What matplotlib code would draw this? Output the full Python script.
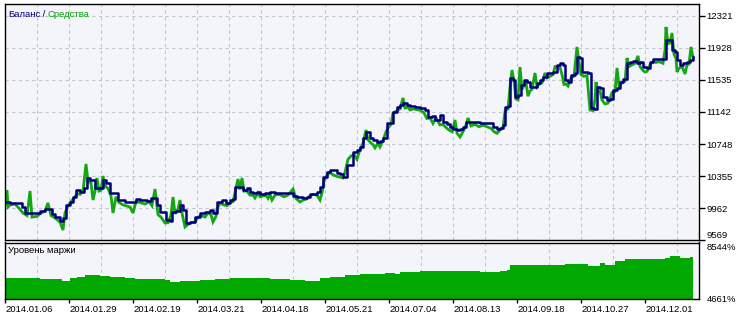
import matplotlib
matplotlib.use("Agg")
import matplotlib.pyplot as plt
from matplotlib.ticker import FixedLocator
from matplotlib.transforms import offset_copy

# ---------------- data ----------------
balance_bar = [0, 5, 12, 17, 20, 31, 35, 40, 47, 50, 55, 58, 61, 65, 68, 71, 75, 79, 82, 85,
               90, 95, 98, 101, 105, 110, 113, 120, 125, 131, 135, 142, 146, 152, 155, 161, 165,
               167, 171, 175, 178, 181, 185, 190, 195, 200, 205, 208, 212, 217, 221, 225, 228,
               230, 235, 238, 242, 245, 248, 252, 255, 260, 265, 270, 275, 280, 285, 288, 292,
               298, 302, 305, 312, 315, 318, 322, 325, 332, 335, 338, 342, 348, 352, 355, 358,
               361, 365, 368, 372, 375, 378, 382, 385, 388, 392, 395, 398, 402, 405, 410, 415,
               420, 423, 427, 430, 435, 438, 442, 445, 448, 452, 455, 458, 461, 475, 485, 488,
               492, 495, 498, 500, 503, 505, 508, 510, 513, 516, 519, 522, 525, 528, 532, 535,
               538, 542, 545, 548, 552, 555, 558, 560, 563, 566, 570, 572, 575, 577, 583, 586,
               589, 592, 595, 598, 602, 605, 608, 612, 615, 618, 622, 625, 628, 632, 635, 638,
               642, 645, 648, 659, 661, 665, 667, 670, 672, 675, 678, 682, 685, 688]
balance_val = [10036, 10024, 10024, 9974, 9901, 9901, 9925, 9950, 9888, 9851, 9802, 9839, 9999,
               10036, 10097, 10183, 10159, 10208, 10331, 10306, 10208, 10208, 10306, 10269,
               10146, 10146, 10060, 10036, 10036, 10073, 10060, 10048, 10085, 9999, 9913, 9815,
               9802, 9913, 9925, 9999, 9937, 9778, 9790, 9851, 9901, 9913, 9937, 9901, 10036,
               10060, 10024, 10060, 10073, 10220, 10220, 10183, 10208, 10159, 10146, 10159,
               10134, 10146, 10159, 10146, 10150, 10146, 10146, 10110, 10097, 10085, 10097,
               10134, 10159, 10220, 10343, 10404, 10429, 10392, 10380, 10343, 10490, 10650,
               10675, 10712, 10822, 10896, 10822, 10798, 10773, 10785, 10822, 11006, 11006,
               11142, 11203, 11228, 11252, 11228, 11215, 11203, 11191, 11166, 11080, 11093,
               11043, 11105, 11019, 10994, 10957, 10933, 10920, 10933, 10957, 11019, 11006,
               11006, 10957, 10933, 10945, 10982, 11203, 11215, 11559, 11535, 11326, 11350,
               11473, 11535, 11510, 11449, 11449, 11498, 11535, 11572, 11621, 11621, 11633,
               11719, 11744, 11719, 11535, 11510, 11596, 11621, 11817, 11805, 11633, 11621,
               11191, 11178, 11449, 11436, 11326, 11289, 11301, 11412, 11436, 11510, 11547,
               11744, 11756, 11768, 11744, 11756, 11694, 11682, 11756, 11793, 11793, 12026,
               12026, 11903, 11879, 11780, 11719, 11744, 11756, 11780, 11817]

equity_bar = [0, 2, 3, 5, 10, 14, 18, 22, 25, 27, 32, 36, 40, 43, 46, 50, 52, 55, 58, 60, 63,
              66, 70, 72, 75, 78, 81, 83, 86, 88, 90, 92, 94, 96, 98, 100, 103, 106, 108, 111,
              114, 118, 121, 125, 128, 131, 135, 140, 144, 147, 150, 153, 156, 160, 163, 166,
              168, 170, 173, 175, 177, 180, 183, 186, 190, 193, 196, 200, 203, 206, 208, 211,
              212, 215, 219, 222, 225, 228, 230, 233, 235, 237, 239, 242, 245, 248, 250, 253,
              255, 258, 261, 263, 265, 267, 270, 273, 276, 279, 283, 288, 291, 295, 298, 301,
              304, 308, 312, 315, 317, 319, 322, 325, 328, 332, 335, 338, 340, 343, 346, 349,
              352, 355, 358, 361, 363, 366, 368, 370, 373, 375, 378, 381, 384, 386, 388, 391,
              395, 398, 400, 403, 405, 408, 412, 416, 419, 422, 425, 428, 431, 435, 438, 441,
              444, 447, 450, 452, 455, 458, 461, 463, 466, 470, 474, 478, 482, 486, 489, 492,
              495, 498, 500, 503, 505, 507, 509, 511, 513, 515, 517, 519, 521, 523, 525, 527,
              530, 532, 534, 537, 540, 542, 545, 548, 550, 553, 555, 557, 559, 561, 563, 566,
              569, 572, 574, 576, 579, 582, 585, 588, 590, 591, 593, 595, 597, 600, 603, 605,
              607, 610, 612, 614, 617, 620, 622, 624, 627, 630, 633, 635, 638, 640, 642, 645,
              648, 651, 654, 658, 660, 661, 663, 665, 667, 669, 671, 672, 674, 677, 680, 682,
              684, 686, 688]
equity_val = [10000, 10183, 9975, 9999, 10010, 9960, 9900, 9870, 10171, 9850, 9860, 9900, 9925,
              10024, 9870, 9840, 9820, 9790, 9692, 9900, 9990, 10040, 10100, 10140, 10130,
              10170, 10503, 10290, 10270, 10060, 10170, 10331, 10170, 10180, 10355, 10240,
              10200, 10110, 9901, 10100, 10030, 10000, 9990, 9974, 9901, 10040, 10030, 10010,
              10040, 9990, 10195, 9880, 9850, 9778, 9780, 9880, 10097, 9890, 9950, 10060, 9900,
              9729, 9760, 9780, 9790, 9850, 9870, 9851, 9900, 9880, 9790, 9860, 9950, 10020,
              10000, 9990, 10030, 10040, 10150, 10318, 10190, 10331, 10170, 10170, 10120,
              10120, 10085, 10146, 10100, 10110, 10120, 10080, 10130, 10060, 10120, 10130,
              10120, 10100, 10120, 10195, 10080, 10036, 10060, 10070, 10100, 10130, 10120,
              10060, 10146, 10290, 10370, 10400, 10370, 10350, 10340, 10331, 10400, 10560,
              10600, 10620, 10560, 10680, 10760, 10920, 10800, 10760, 10740, 10700, 10760,
              10712, 10790, 10900, 10960, 10990, 11130, 11150, 11180, 11314, 11190, 11200,
              11166, 11180, 11170, 11160, 11130, 11060, 11070, 11000, 11070, 10982, 10990,
              10950, 10920, 10900, 11043, 10880, 10834, 10900, 10980, 11068, 10970, 10990,
              10960, 10980, 10960, 10940, 10900, 10880, 10920, 10950, 11150, 11180, 11450,
              11657, 11520, 11300, 11290, 11694, 11420, 11470, 11500, 11336, 11400, 11420,
              11621, 11450, 11480, 11500, 11621, 11560, 11580, 11600, 11700, 11700, 11690,
              11600, 11480, 11486, 11460, 11560, 11580, 11940, 11760, 11600, 11580, 11590,
              11166, 11160, 11300, 11510, 11400, 11400, 11290, 11240, 11250, 11300, 11380,
              11390, 11682, 11460, 11500, 11520, 11805, 11700, 11720, 11740, 11830, 11700,
              11650, 11633, 11640, 11720, 11760, 11750, 11760, 11740, 11900, 12186, 11980,
              11990, 12112, 11850, 11800, 11633, 11680, 11700, 11608, 11720, 11730, 11940,
              11817]

margin_bar = [0, 10, 25, 35, 50, 57, 65, 72, 80, 88, 95, 105, 120, 130, 145, 160, 165, 175,
              185, 195, 210, 225, 240, 245, 265, 285, 300, 315, 325, 340, 355, 365, 380, 390,
              395, 415, 445, 475, 495, 502, 505, 520, 540, 560, 580, 583, 595, 600, 610, 620,
              635, 645, 660, 665, 675, 685, 688]
margin_val = [6112, 6100, 6112, 6023, 6030, 5907, 6091, 6200, 6343, 6300, 6248, 6180, 6071,
              6023, 6023, 5955, 5839, 5907, 5887, 5955, 6023, 6071, 6112, 6071, 6003, 5955,
              5907, 6071, 6180, 6295, 6364, 6411, 6452, 6411, 6520, 6568, 6568, 6520, 6588,
              6650, 6976, 7000, 7030, 7045, 7070, 6950, 7133, 7024, 7249, 7385, 7433, 7385,
              7501, 7589, 7474, 7542, 7542]

main_yticks = [9569, 9962, 10355, 10748, 11142, 11535, 11928, 12321]
margin_yticks = [4661, 8544]
date_labels = ["2014.01.06", "2014.01.29", "2014.02.19", "2014.03.21", "2014.04.18",
               "2014.05.21", "2014.07.04", "2014.08.13", "2014.09.18", "2014.10.27",
               "2014.12.01"]

# ---------------- style ----------------
BG = "#F4F4FB"
NAVY = "#00007A"
GREEN = "#12A812"
FILL = "#00A800"
GRID = "#C4C4CC"
FONT = "Liberation Sans"
FS = 6.8
XMAX = 694

fig = plt.figure(figsize=(7.43, 3.16), dpi=100)
fig.patch.set_facecolor("white")

W = 743.0
H = 316.0
ax = fig.add_axes([5 / W, (H - 240) / H, 694 / W, 236 / H])
ax2 = fig.add_axes([5 / W, (H - 299) / H, 694 / W, 56.5 / H])

for a in (ax, ax2):
    a.set_facecolor(BG)
    for s in a.spines.values():
        s.set_color("black")
        s.set_linewidth(1.0)
    a.set_xlim(0, XMAX)
    a.xaxis.set_minor_locator(FixedLocator(list(range(32, XMAX, 32))))
    a.grid(which="minor", axis="x", color=GRID, linestyle=(0, (3, 3)), linewidth=0.8)
    a.tick_params(axis="x", which="minor", length=0)
    a.set_axisbelow(True)

# main panel
ax.plot(equity_bar, equity_val, color=GREEN, linewidth=2.0, solid_joinstyle="miter", zorder=2)
ax.plot(balance_bar, balance_val, color=NAVY, linewidth=1.8, drawstyle="steps-post", zorder=3)
ax.set_ylim(9569, 12468)
ax.yaxis.tick_right()
ax.set_yticks(main_yticks)
ax.set_yticklabels([str(v) for v in main_yticks], fontfamily=FONT, fontsize=FS)
ax.tick_params(axis="y", length=4, width=1, pad=1.5, colors="black")
ax.grid(which="major", axis="y", color=GRID, linestyle=(0, (3, 3)), linewidth=0.8)
ax.set_xticks([])
ax.get_yticklabels()[0].set_va("bottom")

# legend-like title: "Баланс / Средства"
fig.canvas.draw()
renderer = fig.canvas.get_renderer()
t1 = ax.text(0.004, 0.975, "Баланс", transform=ax.transAxes, color=NAVY, fontsize=FS,
             fontfamily=FONT, ha="left", va="top")
w1 = t1.get_window_extent(renderer).width
t2 = ax.text(0.004, 0.975, " / ", color="black", fontsize=FS, fontfamily=FONT,
             ha="left", va="top",
             transform=offset_copy(ax.transAxes, fig=fig, x=w1, y=0, units="dots"))
w2 = t2.get_window_extent(renderer).width
ax.text(0.004, 0.975, "Средства", color="#00A000", fontsize=FS, fontfamily=FONT,
        ha="left", va="top",
        transform=offset_copy(ax.transAxes, fig=fig, x=w1 + w2, y=0, units="dots"))

# margin panel
ax2.fill_between(margin_bar, margin_val, margin_yticks[0], step="post", color=FILL,
                 linewidth=0, zorder=2)
ax2.set_ylim(margin_yticks[0], margin_yticks[1])
ax2.yaxis.tick_right()
ax2.set_yticks(margin_yticks)
ax2.set_yticklabels([f"{v}%" for v in margin_yticks], fontfamily=FONT, fontsize=FS)
ax2.tick_params(axis="y", length=0, pad=5.5)
labs = ax2.get_yticklabels()
labs[1].set_va("top")
labs[0].set_va("center")
ax2.text(0.004, 0.93, "Уровень маржи", transform=ax2.transAxes, color="black",
         fontsize=FS, fontfamily=FONT, ha="left", va="top")

xt = list(range(0, 64 * len(date_labels), 64))
ax2.set_xticks(xt)
ax2.set_xticklabels(date_labels, fontfamily=FONT, fontsize=FS, ha="left")
ax2.tick_params(axis="x", which="major", length=3, width=1, pad=1)

fig.savefig("out.png", dpi=100, facecolor="white")
